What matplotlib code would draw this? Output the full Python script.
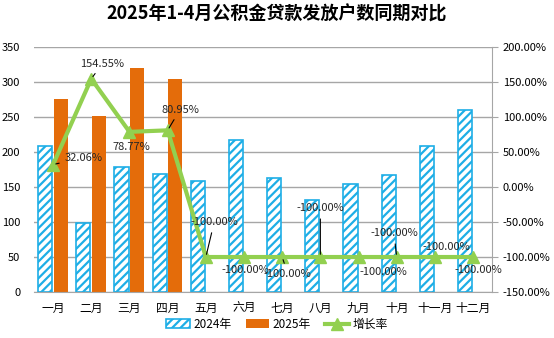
import matplotlib.pyplot as plt
import numpy as np

plt.rcParams['font.family'] = ['Noto Sans CJK SC', 'DejaVu Sans']
plt.rcParams['hatch.linewidth'] = 1.6

months = ["一月", "二月", "三月", "四月", "五月", "六月", "七月", "八月", "九月", "十月", "十一月", "十二月"]
y2024 = [209, 99, 179, 168, 159, 217, 163, 131, 154, 167, 209, 260]
y2025 = [276, 252, 320, 304]
growth = [32.06, 154.55, 78.77, 80.95, -100, -100, -100, -100, -100, -100, -100, -100]
labels = ["32.06%", "154.55%", "78.77%", "80.95%"] + ["-100.00%"] * 8
# label offsets in points (dx, dy) and whether a leader line is drawn
label_offsets = [(22, 5), (8, 11), (1, -11), (9, 15), (6, 25), (1, -9),
                 (4, -12), (0, 35), (18, -11), (-2, 17), (8, 7), (4, -9)]
leaders = [True, True, False, True, True, False, True, True, False, True, False, False]

BLUE = "#1EAEE6"
ORANGE = "#E46C0A"
GREEN = "#92D050"

fig = plt.figure(figsize=(5.54, 3.38), dpi=100)
ax = fig.add_axes([0.0614, 0.136, 0.827, 0.725])
ax2 = ax.twinx()

x = np.arange(len(months))
w = 0.37
ax.bar(x - 0.21, y2024, w, color="white", edgecolor=BLUE, hatch="////", linewidth=1.2, label="2024年", zorder=2)
ax.bar(x[:len(y2025)] + 0.2, y2025, w, color=ORANGE, label="2025年", zorder=2)

ax.set_ylim(0, 350)
ax.set_yticks(range(0, 351, 50))
ax.set_xlim(-0.5, len(months) - 0.5)
ax.set_xticks(x)
ax.set_xticklabels(months, fontsize=8.5)
ax.tick_params(axis="y", labelsize=8, length=0, pad=10)
ax.tick_params(axis="x", length=0, pad=7)
ax.grid(axis="y", color="#A6A6A6", linewidth=1, zorder=0)
ax.set_axisbelow(True)
for s in ["top", "left", "right"]:
    ax.spines[s].set_visible(False)
ax.spines["bottom"].set_color("#A6A6A6")

ax2.plot(x, growth, color=GREEN, linewidth=3, marker="^", markersize=8, label="增长率", zorder=3)
ax2.set_ylim(-150, 200)
ax2.set_yticks(range(-150, 201, 50))
ax2.set_yticklabels([f"{v:.2f}%" for v in range(-150, 201, 50)], fontsize=8)
ax2.tick_params(axis="y", length=4, color="#A6A6A6")
for s in ["top", "left", "bottom"]:
    ax2.spines[s].set_visible(False)
ax2.spines["right"].set_color("#A6A6A6")

for i, (g, t) in enumerate(zip(growth, labels)):
    dx, dy = label_offsets[i]
    props = dict(arrowstyle="-", color="black", lw=0.8) if leaders[i] else None
    ax2.annotate(t, xy=(x[i], g), xytext=(dx, dy), textcoords="offset points",
                 ha="center", va="center", fontsize=8, color="#262626",
                 arrowprops=props, zorder=4)

fig.suptitle("2025年1-4月公积金贷款发放户数同期对比", fontsize=13, fontweight="bold", y=0.985)

h1, l1 = ax.get_legend_handles_labels()
h2, l2 = ax2.get_legend_handles_labels()
fig.legend(h1 + h2, l1 + l2, loc="lower center", bbox_to_anchor=(0.5, -0.01), ncol=3,
           frameon=False, fontsize=8.5, handlelength=2.0, handletextpad=0.3, columnspacing=1.2)

fig.savefig("out.png", dpi=100)
